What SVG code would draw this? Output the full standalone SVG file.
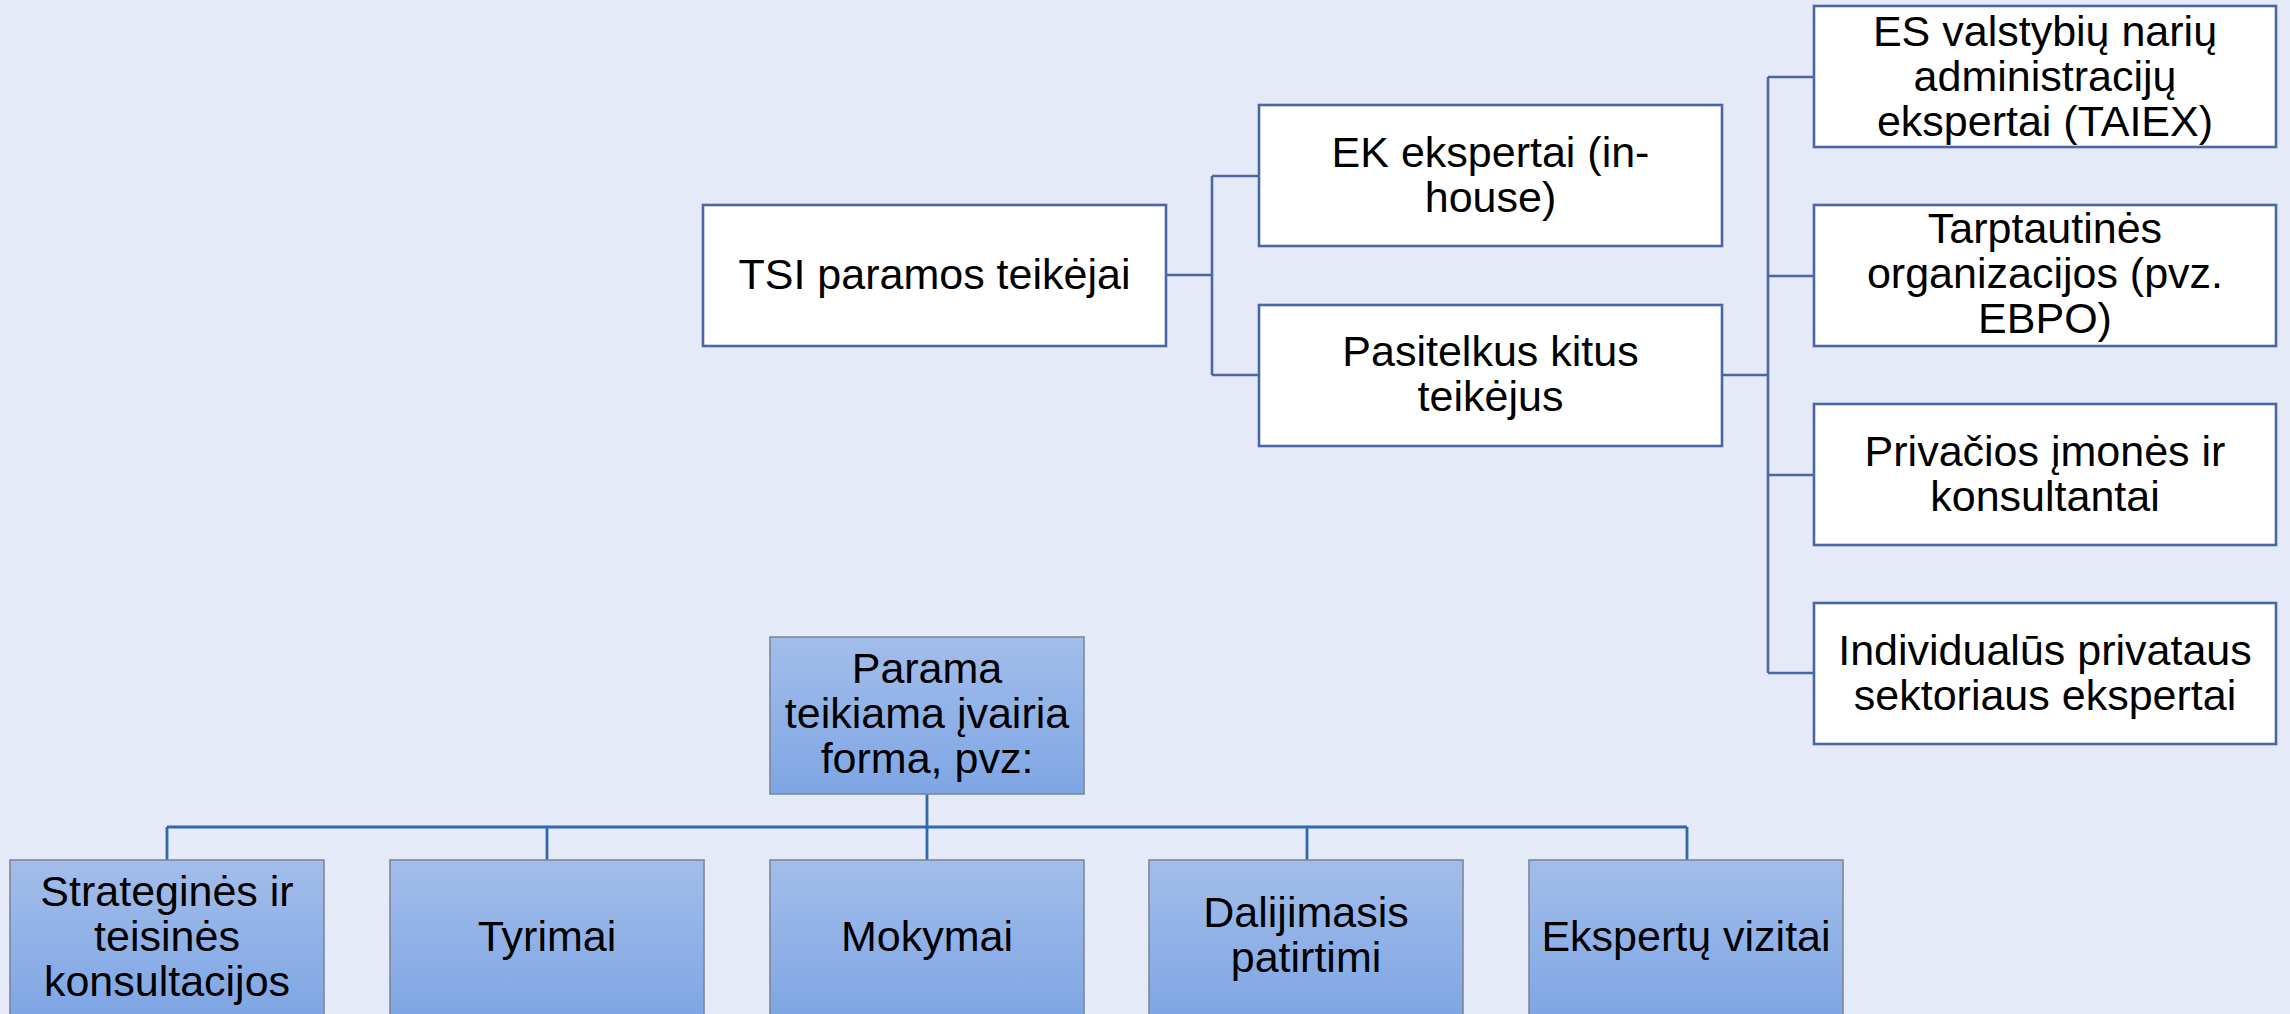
<svg xmlns="http://www.w3.org/2000/svg" width="2290" height="1014" viewBox="0 0 2290 1014">
<defs>
<linearGradient id="blueGrad" x1="0" y1="0" x2="0" y2="1">
<stop offset="0" stop-color="#a3bdea"/>
<stop offset="1" stop-color="#7ea6e4"/>
</linearGradient>
</defs>
<style>
.wbox{fill:#ffffff;stroke:#4a66a6;stroke-width:2.6}
.bbox{fill:url(#blueGrad);stroke:#7d8797;stroke-width:1.6}
.t{font-family:"Liberation Sans",Arial,sans-serif;font-size:43px;fill:#000000;text-anchor:middle}
.c1{fill:none;stroke:#4a66a6;stroke-width:2.6}
.c2{fill:none;stroke:#2e69b0;stroke-width:2.8}
</style>
<rect x="0" y="0" width="2290" height="1014" fill="#e4eaf7"/>
<g id="connectors">
<path class="c1" d="M1166,275 H1212 M1212,176 V375 M1212,176 H1259 M1212,375 H1259"/>
<path class="c1" d="M1722,375 H1768 M1768,77 V673 M1768,77 H1814 M1768,276 H1814 M1768,475 H1814 M1768,673 H1814"/>
<path class="c2" d="M927,794 V860 M167,827 H1687 M167,827 V860 M547,827 V860 M1307,827 V860 M1687,827 V860"/>
</g>
<g id="tsi">
<rect class="wbox" x="703" y="205" width="463" height="141"/>
<text class="t" x="934.5" y="289">TSI paramos teikėjai</text>
</g>
<g id="ek">
<rect class="wbox" x="1259" y="105" width="463" height="141"/>
<text class="t" x="1490.5" y="167">EK ekspertai (in-</text>
<text class="t" x="1490.5" y="212">house)</text>
</g>
<g id="pasitelkus">
<rect class="wbox" x="1259" y="305" width="463" height="141"/>
<text class="t" x="1490.5" y="366">Pasitelkus kitus</text>
<text class="t" x="1490.5" y="411">teikėjus</text>
</g>
<g id="es">
<rect class="wbox" x="1814" y="6" width="462" height="141"/>
<text class="t" x="2045" y="46">ES valstybių narių</text>
<text class="t" x="2045" y="91">administracijų</text>
<text class="t" x="2045" y="136">ekspertai (TAIEX)</text>
</g>
<g id="tarptautines">
<rect class="wbox" x="1814" y="205" width="462" height="141"/>
<text class="t" x="2045" y="243">Tarptautinės</text>
<text class="t" x="2045" y="288">organizacijos (pvz.</text>
<text class="t" x="2045" y="333">EBPO)</text>
</g>
<g id="privacios">
<rect class="wbox" x="1814" y="404" width="462" height="141"/>
<text class="t" x="2045" y="466">Privačios įmonės ir</text>
<text class="t" x="2045" y="511">konsultantai</text>
</g>
<g id="individualus">
<rect class="wbox" x="1814" y="603" width="462" height="141"/>
<text class="t" x="2045" y="665">Individualūs privataus</text>
<text class="t" x="2045" y="710">sektoriaus ekspertai</text>
</g>
<g id="parama">
<rect class="bbox" x="770" y="637" width="314" height="157"/>
<text class="t" x="927" y="683">Parama</text>
<text class="t" x="927" y="728">teikiama įvairia</text>
<text class="t" x="927" y="773">forma, pvz:</text>
</g>
<g id="strategines">
<rect class="bbox" x="10" y="860" width="314" height="157"/>
<text class="t" x="167" y="906">Strateginės ir</text>
<text class="t" x="167" y="951">teisinės</text>
<text class="t" x="167" y="996">konsultacijos</text>
</g>
<g id="tyrimai">
<rect class="bbox" x="390" y="860" width="314" height="157"/>
<text class="t" x="547" y="951">Tyrimai</text>
</g>
<g id="mokymai">
<rect class="bbox" x="770" y="860" width="314" height="157"/>
<text class="t" x="927" y="951">Mokymai</text>
</g>
<g id="dalijimasis">
<rect class="bbox" x="1149" y="860" width="314" height="157"/>
<text class="t" x="1306" y="927">Dalijimasis</text>
<text class="t" x="1306" y="972">patirtimi</text>
</g>
<g id="ekspertu">
<rect class="bbox" x="1529" y="860" width="314" height="157"/>
<text class="t" x="1686" y="951">Ekspertų vizitai</text>
</g>
</svg>
